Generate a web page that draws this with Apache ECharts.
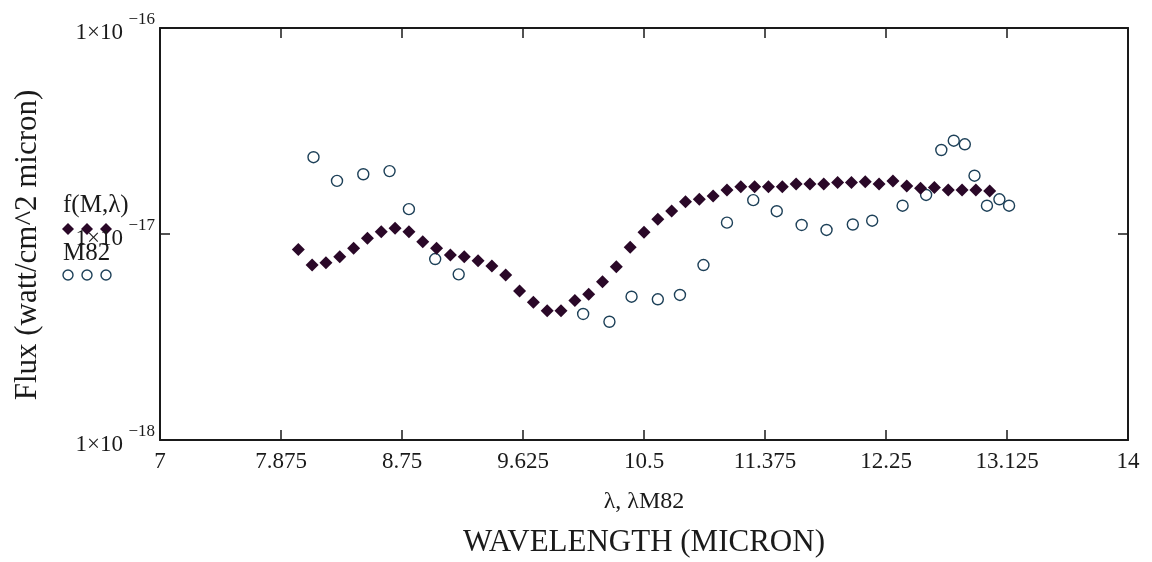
<!DOCTYPE html>
<html>
<head>
<meta charset="utf-8">
<script src="https://cdn.jsdelivr.net/npm/echarts@6/dist/echarts.min.js"></script>
<style>
  html, body { margin: 0; padding: 0; background: #fff; }
  #chart { width: 1152px; height: 562px; }
</style>
</head>
<body>
<div id="chart"></div>
<script>
// model curve f(M, lambda)
var fLambda = [8.0, 8.1, 8.2, 8.3, 8.4, 8.5, 8.6, 8.7, 8.8, 8.9,
  9.0, 9.1, 9.2, 9.3, 9.4, 9.5, 9.6, 9.7, 9.8, 9.9,
  10.0, 10.1, 10.2, 10.3, 10.4, 10.5, 10.6, 10.7, 10.8, 10.9,
  11.0, 11.1, 11.2, 11.3, 11.4, 11.5, 11.6, 11.7, 11.8, 11.9,
  12.0, 12.1, 12.2, 12.3, 12.4, 12.5, 12.6, 12.7, 12.8, 12.9, 13.0];
var fFlux = [8.42e-18, 7.07e-18, 7.26e-18, 7.76e-18, 8.52e-18, 9.53e-18, 1.026e-17, 1.066e-17, 1.026e-17, 9.18e-18,
  8.52e-18, 7.91e-18, 7.76e-18, 7.42e-18, 6.99e-18, 6.32e-18, 5.29e-18, 4.66e-18, 4.24e-18, 4.24e-18,
  4.75e-18, 5.10e-18, 5.87e-18, 6.94e-18, 8.62e-18, 1.019e-17, 1.178e-17, 1.293e-17, 1.435e-17, 1.474e-17,
  1.529e-17, 1.635e-17, 1.697e-17, 1.697e-17, 1.697e-17, 1.697e-17, 1.748e-17, 1.748e-17, 1.748e-17, 1.78e-17,
  1.78e-17, 1.795e-17, 1.748e-17, 1.808e-17, 1.71e-17, 1.667e-17, 1.68e-17, 1.635e-17, 1.635e-17, 1.635e-17, 1.617e-17];

// M82 measurements
var mLambda = [8.11, 8.28, 8.47, 8.66, 8.80, 8.99, 9.16, 10.06, 10.25, 10.41,
  10.60, 10.76, 10.93, 11.10, 11.29, 11.46, 11.64, 11.82, 12.01, 12.15,
  12.37, 12.54, 12.65, 12.74, 12.82, 12.89, 12.98, 13.07, 13.14];
var mFlux = [2.36e-17, 1.81e-17, 1.95e-17, 2.02e-17, 1.32e-17, 7.56e-18, 6.37e-18, 4.09e-18, 3.75e-18, 4.96e-18,
  4.82e-18, 5.06e-18, 7.07e-18, 1.135e-17, 1.46e-17, 1.29e-17, 1.106e-17, 1.046e-17, 1.112e-17, 1.16e-17,
  1.372e-17, 1.547e-17, 2.557e-17, 2.837e-17, 2.725e-17, 1.919e-17, 1.372e-17, 1.474e-17, 1.372e-17];

var xMin = 7, xMax = 14, xStep = 0.875;
var yMin = 1e-18, yMax = 1e-16;

var serif = 'Liberation Serif';
var ink = '#1a1a1a';
var diamondColor = '#2a0828';
var circleColor = '#1d4058';

function pairs(xs, ys) {
  var out = [];
  for (var i = 0; i < xs.length; i++) out.push([xs[i], ys[i]]);
  return out;
}
function expOf(v) {
  return Math.round(Math.log(v) / Math.LN10);
}

var axisLine = { show: true, lineStyle: { color: ink, width: 2 } };
var tickIn = { show: true, inside: true, length: 10, lineStyle: { color: ink, width: 1.5 } };

var myChart = echarts.init(document.getElementById('chart'));
var option = {
  animation: false,
  backgroundColor: '#fff',
  grid: { left: 160, right: 24, top: 28, bottom: 122, outerBoundsMode: 'none' },
  xAxis: [{
    type: 'value', position: 'bottom', min: xMin, max: xMax, interval: xStep,
    axisLine: axisLine, axisTick: tickIn, splitLine: { show: false },
    axisLabel: { color: ink, fontFamily: serif, fontSize: 23, margin: 10, showMinLabel: true, showMaxLabel: true },
    name: 'λ, λM82', nameLocation: 'middle', nameGap: 50,
    nameTextStyle: { color: ink, fontFamily: serif, fontSize: 24 }
  }, {
    type: 'value', position: 'top', min: xMin, max: xMax, interval: xStep,
    axisLine: axisLine, axisTick: tickIn, splitLine: { show: false },
    axisLabel: { show: false }
  }],
  yAxis: [{
    // mantissa part "1×10", sitting a little below the tick
    type: 'log', logBase: 10, position: 'left', min: yMin, max: yMax,
    axisLine: axisLine, axisTick: tickIn, splitLine: { show: false },
    axisLabel: {
      margin: 37, showMinLabel: true, showMaxLabel: true,
      color: ink, fontFamily: serif, fontSize: 23, lineHeight: 10,
      verticalAlign: 'top',
      formatter: function () { return '1×10'; }
    }
  }, {
    type: 'log', logBase: 10, position: 'right', min: yMin, max: yMax,
    axisLine: axisLine, axisTick: tickIn, splitLine: { show: false },
    axisLabel: { show: false }
  }, {
    // exponent part, raised above the tick
    type: 'log', logBase: 10, position: 'left', min: yMin, max: yMax,
    axisLine: { show: false }, axisTick: { show: false }, splitLine: { show: false },
    axisLabel: {
      margin: 5, showMinLabel: true, showMaxLabel: true,
      color: ink, fontFamily: serif, fontSize: 17, lineHeight: 17,
      verticalAlign: 'bottom',
      formatter: function (v) { return '−' + (-expOf(v)); }
    }
  }],
  series: [{
    name: 'M82',
    type: 'scatter',
    xAxisIndex: 0, yAxisIndex: 0,
    data: pairs(mLambda, mFlux),
    symbol: 'circle',
    symbolSize: 11,
    itemStyle: { color: 'rgba(255,255,255,0)', borderColor: circleColor, borderWidth: 1.4, opacity: 1 }
  }, {
    name: 'f(M,λ)',
    type: 'scatter',
    xAxisIndex: 0, yAxisIndex: 0,
    data: pairs(fLambda, fFlux),
    symbol: 'diamond',
    symbolSize: 13,
    itemStyle: { color: diamondColor, opacity: 1 }
  }],
  graphic: [
    { type: 'text', x: 644, y: 543, style: { text: 'WAVELENGTH (MICRON)', fontFamily: serif, fontSize: 31, fill: ink, align: 'center', verticalAlign: 'middle' } },
    { type: 'text', x: 28, y: 245, rotation: Math.PI / 2, style: { text: 'Flux (watt/cm^2 micron)', fontFamily: serif, fontSize: 31, fill: ink, align: 'center', verticalAlign: 'middle' } },
    // legend
    { type: 'text', x: 63, y: 205, style: { text: 'f(M,λ)', fontFamily: serif, fontSize: 25, fill: ink, align: 'left', verticalAlign: 'middle' } },
    { type: 'polygon', shape: { points: [[68, 223], [74, 229], [68, 235], [62, 229]] }, style: { fill: diamondColor } },
    { type: 'polygon', shape: { points: [[87, 223], [93, 229], [87, 235], [81, 229]] }, style: { fill: diamondColor } },
    { type: 'polygon', shape: { points: [[106, 223], [112, 229], [106, 235], [100, 229]] }, style: { fill: diamondColor } },
    { type: 'text', x: 63, y: 253, style: { text: 'M82', fontFamily: serif, fontSize: 25, fill: ink, align: 'left', verticalAlign: 'middle' } },
    { type: 'circle', shape: { cx: 68, cy: 275, r: 5 }, style: { fill: 'none', stroke: circleColor, lineWidth: 1.4 } },
    { type: 'circle', shape: { cx: 87, cy: 275, r: 5 }, style: { fill: 'none', stroke: circleColor, lineWidth: 1.4 } },
    { type: 'circle', shape: { cx: 106, cy: 275, r: 5 }, style: { fill: 'none', stroke: circleColor, lineWidth: 1.4 } }
  ]
};
myChart.setOption(option);
</script>
</body>
</html>
